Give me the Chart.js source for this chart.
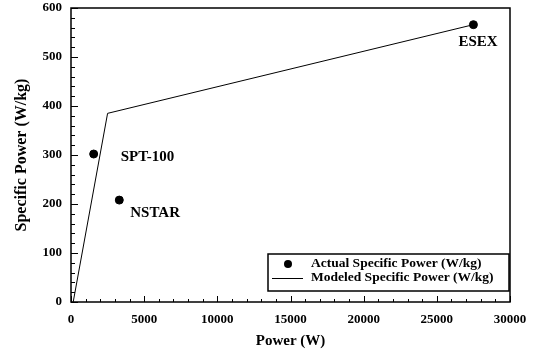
<!DOCTYPE html>
<html>
<head>
<meta charset="utf-8">
<script src="https://cdn.jsdelivr.net/npm/chart.js@4/dist/chart.umd.min.js"></script>
<style>
  html, body { margin: 0; padding: 0; background: #fff; }
  #wrap { width: 534px; height: 354px; }
</style>
</head>
<body>
<div id="wrap"><canvas id="grafico"></canvas></div>
<script>
// thrusters measured
const thrusterNames = ["SPT-100", "NSTAR", "ESEX"];
const actualPower = [1550, 3300, 27500];
const actualSpecific = [302, 208, 566];

// model curve
const modelPower = [150, 2500, 27500];
const modelSpecific = [0, 385, 566];

const xTicks = [0, 5000, 10000, 15000, 20000, 25000, 30000];
const yTicks = [0, 100, 200, 300, 400, 500, 600];

const serif = "'Liberation Serif', 'Times New Roman', serif";

// where each thruster name sits relative to its point
const labelOffsets = [[27, 3], [11, 13], [-15, 17]];

const actualPts = actualPower.map((p, i) => ({ x: p, y: actualSpecific[i] }));
const modelPts = modelPower.map((p, i) => ({ x: p, y: modelSpecific[i] }));

// inward ticks, frame, names and legend box
const decoraciones = {
  id: "decoraciones",
  afterDraw(chart) {
    const ctx = chart.ctx;
    const a = chart.chartArea;
    const xs = chart.scales.x, ys = chart.scales.y;
    ctx.save();
    ctx.strokeStyle = "#000";

    // frame
    ctx.lineWidth = 1.5;
    ctx.strokeRect(a.left, a.top, a.right - a.left, a.bottom - a.top);

    // x ticks (minor every 1000)
    ctx.lineWidth = 1;
    ctx.beginPath();
    for (let v = 0; v <= 30000; v += 1000) {
      const px = Math.round(xs.getPixelForValue(v)) + 0.5;
      const len = v % 5000 === 0 ? 6 : 3;
      ctx.moveTo(px, a.bottom);
      ctx.lineTo(px, a.bottom - len);
    }
    // y ticks (minor every 20)
    for (let v = 0; v <= 600; v += 20) {
      const py = Math.round(ys.getPixelForValue(v)) + 0.5;
      const len = v % 100 === 0 ? 7 : 4;
      ctx.moveTo(a.left, py);
      ctx.lineTo(a.left + len, py);
    }
    ctx.stroke();

    // thruster names
    ctx.fillStyle = "#000";
    ctx.font = "bold 15px " + serif;
    ctx.textBaseline = "middle";
    ctx.textAlign = "left";
    thrusterNames.forEach((n, i) => {
      const px = xs.getPixelForValue(actualPower[i]) + labelOffsets[i][0];
      const py = ys.getPixelForValue(actualSpecific[i]) + labelOffsets[i][1];
      ctx.fillText(n, px, py);
    });

    // legend
    const bx = a.left + 197, by = a.bottom - 48, bw = a.right - 1 - bx, bh = 37;
    ctx.fillStyle = "#fff";
    ctx.fillRect(bx, by, bw, bh);
    ctx.lineWidth = 1.5;
    ctx.strokeRect(bx, by, bw, bh);
    ctx.fillStyle = "#000";
    ctx.font = "bold 13.5px " + serif;
    const ds = chart.data.datasets;
    const r1 = by + 10, r2 = by + 24;
    ctx.beginPath();
    ctx.arc(bx + 20, r1, 4, 0, Math.PI * 2);
    ctx.fill();
    ctx.fillText(ds[0].label, bx + 43, r1);
    ctx.lineWidth = 1;
    ctx.beginPath();
    ctx.moveTo(bx + 4, r2 + 0.5);
    ctx.lineTo(bx + 35, r2 + 0.5);
    ctx.stroke();
    ctx.fillText(ds[1].label, bx + 43, r2);
    ctx.restore();
  }
};

new Chart(document.getElementById("grafico"), {
  type: "scatter",
  data: {
    datasets: [
      {
        label: "Actual Specific Power (W/kg)",
        data: actualPts,
        backgroundColor: "#000",
        borderColor: "#000",
        pointRadius: 4,
        showLine: false
      },
      {
        label: "Modeled Specific Power (W/kg)",
        data: modelPts,
        borderColor: "#000",
        borderWidth: 1,
        pointRadius: 0,
        showLine: true,
        fill: false
      }
    ]
  },
  options: {
    responsive: true,
    maintainAspectRatio: false,
    animation: false,
    layout: { padding: { left: 12, right: 24, top: 8, bottom: 0 } },
    plugins: {
      legend: { display: false },
      tooltip: { enabled: false }
    },
    scales: {
      x: {
        type: "linear",
        min: 0,
        max: 30000,
        afterBuildTicks: s => { s.ticks = xTicks.map(v => ({ value: v })); },
        afterFit: s => { s.height = 52; s.paddingLeft = 0; s.paddingRight = 0; },
        grid: { display: false, drawTicks: false },
        border: { display: false },
        ticks: {
          color: "#000",
          padding: 10,
          maxRotation: 0,
          font: { family: serif, size: 13, weight: "bold" },
          callback: v => String(v)
        },
        title: {
          display: true,
          text: "Power (W)",
          color: "#000",
          padding: { top: 2 },
          font: { family: serif, size: 15, weight: "bold" }
        }
      },
      y: {
        type: "linear",
        min: 0,
        max: 600,
        afterBuildTicks: s => { s.ticks = yTicks.map(v => ({ value: v })); },
        afterFit: s => { s.width = 59; s.paddingTop = 0; s.paddingBottom = 0; },
        grid: { display: false, drawTicks: false },
        border: { display: false },
        ticks: {
          color: "#000",
          padding: 9,
          font: { family: serif, size: 13, weight: "bold" }
        },
        title: {
          display: true,
          text: "Specific Power (W/kg)",
          color: "#000",
          padding: { top: 0, bottom: 0 },
          font: { family: serif, size: 16, weight: "bold" }
        }
      }
    }
  },
  plugins: [decoraciones]
});
</script>
</body>
</html>
